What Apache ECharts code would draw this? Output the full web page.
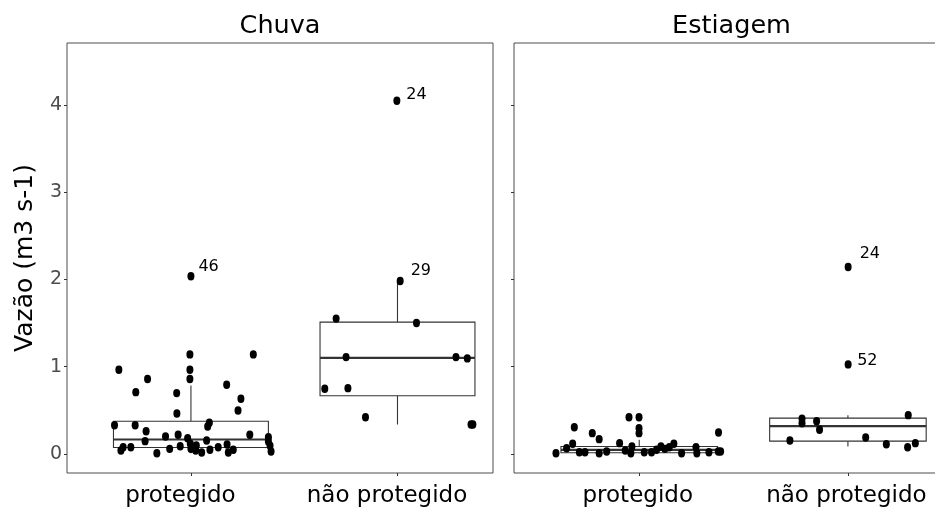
<!DOCTYPE html>
<html>
<head>
<meta charset="utf-8">
<script src="https://cdn.jsdelivr.net/npm/echarts@6/dist/echarts.min.js"></script>
<style>
  html, body { margin: 0; padding: 0; background: #fff; overflow: hidden; }
  #chart { width: 950px; height: 511px; }
</style>
</head>
<body>
<div id="chart"></div>
<script>
// Seasons (facets) and site groups (x categories)
const seasons = ['Chuva', 'Estiagem'];
const groups = ['protegido', 'não protegido'];
const yTicks = [0, 1, 2, 3, 4];
const xTicks = [1, 2];

// Chuva / protegido: jittered x position, flow (m3 s-1), point id label
const chuvaProtX = [0.995, 1.302, 0.651, 0.995, 0.790, 0.995, 0.733, 0.931, 1.173, 1.242,
  1.228, 0.932, 0.630, 0.730, 1.089, 1.081, 0.783, 0.877, 0.938, 0.984,
  1.285, 1.375, 1.375, 0.778, 1.076, 1.383, 1.388, 0.672, 0.661, 0.709,
  0.835, 0.897, 0.948, 0.997, 1.000, 1.026, 1.023, 1.052, 1.092, 1.132,
  1.175, 1.181, 1.205, 1.000];
const chuvaProtY = [1.140, 1.140, 0.964, 0.964, 0.857, 0.857, 0.707, 0.696, 0.792, 0.631,
  0.497, 0.463, 0.328, 0.328, 0.356, 0.313, 0.259, 0.199, 0.218, 0.179,
  0.218, 0.191, 0.141, 0.145, 0.153, 0.092, 0.026, 0.076, 0.038, 0.076,
  0.007, 0.057, 0.087, 0.115, 0.057, 0.095, 0.038, 0.015, 0.046, 0.076,
  0.107, 0.015, 0.046, 2.036];
const chuvaProtIds = ['', '', '', '', '', '', '', '', '', '',
  '', '', '', '', '', '', '', '', '', '',
  '', '', '', '', '', '', '', '', '', '',
  '', '', '', '', '', '', '', '', '', '',
  '', '', '', '46'];

// Chuva / não protegido
const chuvaNaoX = [1.997, 2.013, 1.703, 2.092, 1.751, 2.283, 2.338, 1.648, 1.760, 1.845, 2.356, 2.365];
const chuvaNaoY = [4.048, 1.982, 1.550, 1.499, 1.109, 1.109, 1.094, 0.746, 0.753, 0.420, 0.336, 0.336];
const chuvaNaoIds = ['24', '29', '', '', '', '', '', '', '', '', '', ''];

// Estiagem / protegido
const estProtX = [0.951, 0.999, 0.689, 0.775, 0.808, 0.999, 0.999, 1.380, 0.681, 0.906,
  0.601, 0.652, 0.713, 0.740, 0.808, 0.844, 0.933, 0.960, 0.965, 1.024,
  1.059, 1.083, 1.104, 1.123, 1.144, 1.166, 1.203, 1.272, 1.276, 1.334,
  1.379, 1.390];
const estProtY = [0.420, 0.420, 0.305, 0.237, 0.168, 0.294, 0.237, 0.245, 0.115, 0.122,
  0.007, 0.064, 0.018, 0.018, 0.007, 0.026, 0.038, 0.007, 0.084, 0.018,
  0.018, 0.046, 0.084, 0.057, 0.076, 0.115, 0.007, 0.076, 0.007, 0.018,
  0.026, 0.026];

// Estiagem / não protegido
const estNaoX = [2.001, 2.001, 1.780, 1.780, 1.850, 1.864, 1.722, 2.085, 2.184, 2.286, 2.289, 2.323];
const estNaoY = [2.142, 1.025, 0.402, 0.351, 0.374, 0.276, 0.153, 0.187, 0.110, 0.076, 0.443, 0.122];
const estNaoIds = ['24', '52', '', '', '', '', '', '', '', '', '', ''];

// Box statistics per group: [x, lower whisker, Q1, median, Q3, upper whisker]
const chuvaBoxes = [
  [1, 0.007, 0.072, 0.164, 0.374, 0.784],
  [2, 0.336, 0.666, 1.100, 1.510, 1.982]
];
const estBoxes = [
  [1, 0.007, 0.013, 0.046, 0.084, 0.160],
  [2, 0.084, 0.145, 0.317, 0.409, 0.443]
];

// ---- styling ----
const FONT = "'DejaVu Sans', sans-serif";
const BOX_COLOR = '#333333';
const FRAME_COLOR = '#4d4d4d';
const BOX_WIDTH = 0.75;
const Y_MIN = -0.22, Y_MAX = 4.71;
const GRIDS = [
  { left: 67, top: 43, width: 426, height: 430, xMax: 2.4624, labelPad: [0, 21, 0, 0] },
  { left: 514, top: 43, width: 435, height: 430, xMax: 2.4843, labelPad: [0, 3, 0, 0] }
];
// text placement of the point ids next to their points
const LABEL_OFFSETS = {
  'Chuva-46': [7.5, -9], 'Chuva-24': [9.5, -6], 'Chuva-29': [10.5, -10],
  'Estiagem-24': [11.5, -13], 'Estiagem-52': [9, -4]
};

function pointSeries(xs, ys, ids, gi) {
  const season = seasons[gi];
  return {
    type: 'scatter', xAxisIndex: gi, yAxisIndex: gi, z: 3, silent: true,
    symbol: 'circle', symbolSize: [7, 8.4],
    itemStyle: { color: '#000', opacity: 1 },
    emphasis: { disabled: true },
    data: xs.map(function (x, i) {
      const item = { value: [x, ys[i]] };
      const id = ids ? ids[i] : '';
      if (id) {
        item.label = {
          show: true, formatter: id, position: 'inside', align: 'left', verticalAlign: 'middle',
          offset: LABEL_OFFSETS[season + '-' + id] || [8, -6],
          color: '#000', fontSize: 16, fontFamily: FONT
        };
      }
      return item;
    })
  };
}

function boxSeries(boxes, gi) {
  return {
    type: 'custom', xAxisIndex: gi, yAxisIndex: gi, z: 2, silent: true,
    encode: { x: 0, y: [1, 2, 3, 4, 5] },
    data: boxes,
    renderItem: function (params, api) {
      const x = api.value(0), hw = BOX_WIDTH / 2;
      const lo = api.coord([x, api.value(1)]);
      const q1 = api.coord([x, api.value(2)]);
      const md = api.coord([x, api.value(3)]);
      const q3 = api.coord([x, api.value(4)]);
      const hi = api.coord([x, api.value(5)]);
      const l = api.coord([x - hw, 0])[0];
      const r = api.coord([x + hw, 0])[0];
      const thin = { stroke: BOX_COLOR, lineWidth: 1.1, fill: null };
      return {
        type: 'group',
        children: [
          { type: 'line', shape: { x1: lo[0], y1: lo[1], x2: q1[0], y2: q1[1] }, style: thin },
          { type: 'line', shape: { x1: q3[0], y1: q3[1], x2: hi[0], y2: hi[1] }, style: thin },
          { type: 'rect', shape: { x: l, y: q3[1], width: r - l, height: q1[1] - q3[1] },
            style: { stroke: BOX_COLOR, lineWidth: 1.1, fill: '#fff' } },
          { type: 'line', shape: { x1: l, y1: md[1], x2: r, y2: md[1] },
            style: { stroke: BOX_COLOR, lineWidth: 2.2 } }
        ]
      };
    }
  };
}

const chart = echarts.init(document.getElementById('chart'), null, { renderer: 'canvas' });

const option = {
  animation: false,
  backgroundColor: '#fff',
  textStyle: { fontFamily: FONT },
  grid: GRIDS.map(function (g) {
    return {
      left: g.left, top: g.top, width: g.width, height: g.height,
      containLabel: false, outerBoundsMode: 'none',
      show: true, borderColor: FRAME_COLOR, borderWidth: 1, backgroundColor: 'transparent'
    };
  }),
  xAxis: GRIDS.map(function (g, gi) {
    return {
      type: 'value', gridIndex: gi, min: 0.4, max: g.xMax, position: 'bottom',
      axisLine: { show: false, onZero: false },
      splitLine: { show: false },
      axisTick: { show: true, length: 3, customValues: xTicks, lineStyle: { color: BOX_COLOR, width: 1 } },
      axisLabel: {
        show: true, customValues: xTicks, margin: 12, padding: g.labelPad,
        formatter: function (v) { return groups[Math.round(v) - 1]; },
        color: '#000', fontSize: 23, fontFamily: FONT
      }
    };
  }),
  yAxis: GRIDS.map(function (g, gi) {
    const ax = {
      type: 'value', gridIndex: gi, min: Y_MIN, max: Y_MAX, position: 'left',
      axisLine: { show: false, onZero: false },
      splitLine: { show: false },
      axisTick: { show: true, length: 3, customValues: yTicks, lineStyle: { color: BOX_COLOR, width: 1 } },
      axisLabel: {
        show: gi === 0, customValues: yTicks, margin: 5,
        color: '#4d4d4d', fontSize: 19, fontFamily: FONT
      }
    };
    if (gi === 0) {
      ax.name = 'Vazão (m3 s-1)';
      ax.nameLocation = 'middle';
      ax.nameRotate = 90;
      ax.nameGap = 29;
      ax.nameTextStyle = { fontSize: 25, color: '#000', fontFamily: FONT };
    }
    return ax;
  }),
  graphic: GRIDS.map(function (g, gi) {
    return {
      type: 'text', x: g.left + g.width / 2, y: 13, silent: true,
      style: {
        text: seasons[gi], align: 'center', verticalAlign: 'top',
        fontSize: 25.5, fontFamily: FONT, fill: '#000'
      }
    };
  }),
  series: [
    boxSeries(chuvaBoxes, 0),
    boxSeries(estBoxes, 1),
    pointSeries(chuvaProtX, chuvaProtY, chuvaProtIds, 0),
    pointSeries(chuvaNaoX, chuvaNaoY, chuvaNaoIds, 0),
    pointSeries(estProtX, estProtY, null, 1),
    pointSeries(estNaoX, estNaoY, estNaoIds, 1)
  ]
};

chart.setOption(option);
</script>
</body>
</html>
